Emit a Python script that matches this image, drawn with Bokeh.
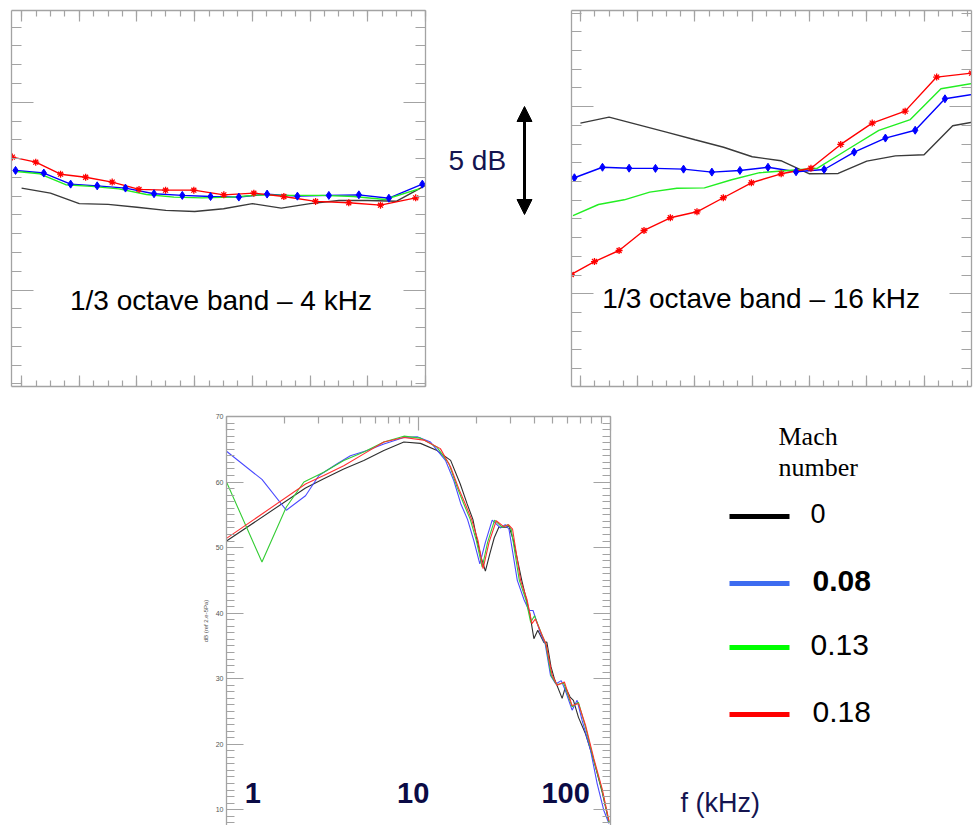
from bokeh.plotting import figure
from bokeh.layouts import column, row
from bokeh.models import (Range1d, FixedTicker, LinearAxis, Label, Arrow, NormalHead,
                          CustomLabelingPolicy)
from bokeh.embed import file_html
from bokeh.resources import INLINE

# ---------------- data ----------------
mach_labels = ["0", "0.08", "0.13", "0.18"]

# directivity panels (angle positions per Mach number)
ang_m0 = [20, 30, 40, 50, 60, 70, 80, 90, 100, 110, 120, 130, 140, 150, 160]
ang_m008 = [17.9, 27.7, 37.0, 46.2, 56.0, 65.9, 75.7, 85.5, 95.3, 105.1, 115.6, 126.5, 136.9, 147.3, 158.9]
ang_m013 = [17.4, 26.3, 35.3, 44.2, 53.7, 63.3, 72.8, 82.6, 92.7, 102.8, 113.3, 124.2, 135.2, 145.9, 157.8]
ang_m018 = [16.8, 24.9, 33.5, 42.2, 51.4, 60.7, 69.9, 79.7, 90.1, 100.5, 110.9, 121.9, 133.4, 144.4, 156.6]

band4_m0 = [65.43, 65.16, 64.60, 64.56, 64.41, 64.24, 64.18, 64.33, 64.60, 64.36, 64.60, 64.77, 64.77, 64.73, 65.57]
band4_m008 = [66.37, 66.23, 65.64, 65.55, 65.43, 65.13, 65.04, 64.98, 64.95, 65.11, 65.00, 65.04, 65.07, 64.89, 65.64]
band4_m013 = [66.33, 66.19, 65.61, 65.52, 65.39, 65.09, 64.95, 64.91, 64.95, 65.07, 65.04, 65.04, 64.98, 64.82, 65.39]
band4_m018 = [67.08, 66.81, 66.17, 66.01, 65.75, 65.36, 65.32, 65.32, 65.07, 65.16, 64.98, 64.72, 64.65, 64.52, 64.91]

band16_m0 = [69.12, 69.44, 69.04, 68.64, 68.23, 67.83, 67.32, 67.11, 66.41, 66.43, 67.09, 67.37, 67.43, 68.98, 69.26]
band16_m008 = [66.20, 66.76, 66.71, 66.70, 66.66, 66.50, 66.59, 66.76, 66.52, 66.64, 67.57, 68.32, 68.74, 70.42, 70.70]
band16_m013 = [64.18, 64.77, 65.02, 65.43, 65.64, 65.66, 66.09, 66.47, 66.59, 66.71, 67.71, 68.73, 69.31, 70.96, 71.26]
band16_m018 = [61.03, 61.72, 62.31, 63.38, 64.06, 64.38, 65.13, 65.93, 66.41, 66.71, 67.98, 69.12, 69.76, 71.58, 71.79]

# narrow-band spectra (frequency in kHz, level in dB)
f_m0 = [1.0, 2.58, 3.21, 4.08, 5.19, 6.6, 8.39, 10.24, 12.5, 14.7, 16.5, 17.9, 19.2, 20.2, 21.2, 22.3,
        23.5, 24.8, 26.2, 29.0, 29.5, 31.2, 34.5, 38.0, 39.9, 41.8, 45.0, 46.6, 49.0, 51.0, 56.0, 58.2,
        61.6, 64.1, 68.1, 74.1, 81.9, 90.5, 98.2]
spl_m0 = [51.0, 59.1, 60.5, 62.0, 63.3, 64.8, 66.1, 65.9, 64.8, 63.3, 59.7, 56.7, 54.3, 51.1, 48.5, 46.4,
          49.0, 51.5, 53.1, 53.1, 53.4, 51.1, 45.0, 39.9, 36.1, 37.4, 35.5, 35.6, 31.8, 30.0, 27.0, 28.7,
          27.2, 26.7, 24.1, 21.6, 17.5, 12.7, 8.1]
f_m008 = [1.0, 1.53, 2.05, 2.58, 3.03, 3.77, 4.42, 5.4, 6.6, 8.39, 9.84, 11.55, 13.82, 15.28, 16.6, 18.0,
          19.4, 20.86, 22.3, 24.2, 26.7, 28.3, 29.6, 32.7, 35.5, 37.6, 39.5, 43.2, 45.7, 48.7, 51.9, 55.4,
          58.2, 63.1, 67.0, 71.2, 78.7, 85.2, 92.3, 98.2]
spl_m008 = [64.7, 60.4, 55.7, 57.9, 61.0, 62.8, 64.0, 64.8, 65.8, 66.8, 66.9, 66.1, 63.3, 60.2, 56.7, 54.3,
            51.1, 47.5, 50.8, 54.2, 53.0, 53.5, 52.8, 45.0, 42.0, 40.4, 40.4, 36.9, 35.3, 30.5, 29.2, 29.7,
            28.2, 25.2, 26.7, 23.6, 19.1, 14.0, 9.9, 7.9]
f_m013 = [1.0, 1.53, 2.05, 2.53, 3.21, 4.08, 5.19, 6.6, 8.39, 10.24, 12.5, 14.4, 15.9, 17.2, 18.6, 20.0,
          21.46, 22.9, 24.9, 27.3, 29.2, 30.4, 33.5, 36.3, 38.4, 40.2, 43.8, 46.0, 49.2, 52.3, 57.1, 63.1,
          68.1, 74.1, 81.9, 90.5, 98.2]
spl_m013 = [60.0, 47.8, 56.2, 60.0, 61.5, 63.3, 64.6, 66.1, 67.0, 66.7, 65.3, 62.8, 59.2, 56.7, 54.3, 51.1,
            47.0, 50.8, 54.2, 53.1, 53.5, 52.8, 45.0, 42.0, 38.6, 39.6, 36.8, 35.3, 30.4, 29.1, 29.3, 25.7,
            26.4, 22.6, 17.5, 12.9, 8.1]
f_m018 = [1.0, 2.58, 3.21, 4.08, 5.19, 6.6, 8.39, 10.66, 13.0, 14.7, 16.2, 17.5, 18.9, 20.4, 21.7, 23.3,
          25.4, 27.8, 29.4, 30.9, 34.0, 36.8, 39.0, 40.6, 44.2, 46.2, 49.6, 52.7, 57.5, 63.1, 68.1, 74.1,
          81.9, 90.5, 98.2]
spl_m018 = [51.4, 59.7, 61.0, 62.5, 64.3, 66.1, 66.8, 66.4, 65.1, 62.3, 59.0, 56.7, 54.3, 51.1, 46.8, 50.8,
            54.1, 53.2, 53.5, 52.8, 45.0, 42.0, 38.4, 39.1, 36.5, 35.3, 30.6, 29.0, 29.5, 25.9, 26.2, 22.9,
            17.8, 13.2, 8.3]

angle_major = [20, 40, 60, 80, 100, 120, 140, 160]
angle_minor = list(range(15, 161, 5))
level_major = [60, 70]
level_minor = list(range(55, 76))
spec_y_major = [10, 20, 30, 40, 50, 60, 70]
spec_y_minor = list(range(7, 71))
spec_x_major = [1, 10, 100]
spec_x_minor = [2, 3, 4, 5, 6, 7, 8, 9, 20, 30, 40, 50, 60, 70, 80, 90]

# ---------------- styles ----------------
SANS = "Liberation Sans"
SERIF = "Liberation Serif"
NAVY = "#141450"
FRAME = "#a3a3a3"
panel_colors = ["#3a3a3a", "#0000ff", "#22ee22", "#ff0000"]
spec_colors = ["#2e2e2e", "#4a4aff", "#33cc33", "#ff3030"]
legend_colors = ["#000000", "#3d6cf0", "#00ff00", "#ff0000"]

TOP_B, BOT_B = 10, 9   # shared frame borders of the top row


def base_fig(w, h, **kw):
    p = figure(width=w, height=h, output_backend="svg", toolbar_location=None, **kw)
    p.background_fill_color = "white"
    p.border_fill_color = "white"
    p.outline_line_color = None
    return p


def style_axis(ax, major_in, minor_in, ticker, labels=False):
    ax.ticker = ticker
    ax.major_tick_in = major_in
    ax.major_tick_out = 0
    ax.minor_tick_in = minor_in
    ax.minor_tick_out = 0
    ax.axis_line_color = FRAME
    ax.major_tick_line_color = FRAME
    ax.minor_tick_line_color = FRAME
    ax.axis_line_width = 1.3
    ax.major_tick_line_width = 1.2
    ax.minor_tick_line_width = 1.2
    if not labels:
        ax.major_label_policy = CustomLabelingPolicy(code="return []")
        ax.major_label_text_font_size = "1px"
        ax.major_label_standoff = 0
        ax.axis_label = None


def band_panel(w, h, xr, yr, lr_borders, series_y, caption, cap_xy):
    p = base_fig(w, h, x_range=Range1d(*xr), y_range=Range1d(*yr),
                 x_axis_type=None, y_axis_type=None)
    p.min_border_left, p.min_border_right = lr_borders
    p.min_border_top, p.min_border_bottom = TOP_B, BOT_B
    for loc in ["left", "right"]:
        ax = LinearAxis()
        style_axis(ax, 22, 10, FixedTicker(ticks=level_major, minor_ticks=level_minor))
        p.add_layout(ax, loc)
    for loc in ["below", "above"]:
        ax = LinearAxis()
        style_axis(ax, 11, 6, FixedTicker(ticks=angle_major, minor_ticks=angle_minor))
        p.add_layout(ax, loc)
    xs = [ang_m0, ang_m008, ang_m013, ang_m018]
    for i, (x, y) in enumerate(zip(xs, series_y)):
        p.line(x, y, line_color=panel_colors[i], line_width=1.4)
    p.scatter(ang_m008, series_y[1], marker="diamond", size=8,
              fill_color=panel_colors[1], line_color=panel_colors[1])
    p.scatter(ang_m018, series_y[3], marker="asterisk", size=7,
              line_color=panel_colors[3], line_width=1.3)
    p.add_layout(Label(x=cap_xy[0], y=cap_xy[1], text=caption, text_align="center",
                       text_baseline="middle", text_font=SANS, text_font_size="28px",
                       text_color="black"))
    return p


# ---------------- top row ----------------
pA = band_panel(440, 395, (16.5, 160.0), (54.86, 74.89), (11, 15),
                [band4_m0, band4_m008, band4_m013, band4_m018],
                "1/3 octave band \u2013 4 kHz", (89.1, 59.45))

pB = base_fig(125, 395, x_range=Range1d(440, 565), y_range=Range1d(395 - BOT_B, TOP_B),
              x_axis_type=None, y_axis_type=None)
pB.min_border_left, pB.min_border_right = 0, 0
pB.min_border_top, pB.min_border_bottom = TOP_B, BOT_B
pB.add_layout(Label(x=448, y=160, text="5 dB", text_align="left", text_baseline="middle",
                    text_font=SANS, text_font_size="28px", text_color=NAVY))
pB.add_layout(Arrow(x_start=524, y_start=214, x_end=524, y_end=106, line_width=3,
                    line_color="black",
                    start=NormalHead(size=15, fill_color="black", line_color="black"),
                    end=NormalHead(size=15, fill_color="black", line_color="black")))

pC = band_panel(410, 395, (16.88, 156.57), (55.04, 75.14), (6, 1),
                [band16_m0, band16_m008, band16_m013, band16_m018],
                "1/3 octave band \u2013 16 kHz", (83.1, 59.75))

# ---------------- bottom spectrum ----------------
pD = base_fig(620, 430, x_range=Range1d(1, 100), y_range=Range1d(7.6, 70),
              x_axis_type="log", x_axis_location="above", y_axis_location="left")
pD.min_border_left, pD.min_border_right, pD.min_border_top, pD.min_border_bottom = 226, 10, 21, 0
pD.xgrid.visible = False
pD.ygrid.visible = False
style_axis(pD.xaxis[0], 14, 7, FixedTicker(ticks=spec_x_major, minor_ticks=spec_x_minor))
yl = pD.yaxis[0]
style_axis(yl, 17, 8, FixedTicker(ticks=spec_y_major, minor_ticks=spec_y_minor), labels=True)
yl.major_label_text_font_size = "7px"
yl.major_label_text_color = "#555555"
yl.major_label_text_font = SANS
yl.major_label_standoff = 3
yl.axis_label = "dB (ref 2.e-5Pa)"
yl.axis_label_text_font_size = "6px"
yl.axis_label_text_font_style = "normal"
yl.axis_label_text_font = SANS
yl.axis_label_text_color = "#555555"
yl.axis_label_standoff = 4
yr = LinearAxis()
style_axis(yr, 17, 8, FixedTicker(ticks=spec_y_major, minor_ticks=spec_y_minor))
pD.add_layout(yr, "right")

for i, (f, s) in enumerate([(f_m0, spl_m0), (f_m008, spl_m008), (f_m013, spl_m013), (f_m018, spl_m018)]):
    pD.line(f, s, line_color=spec_colors[i], line_width=1.1)

for txt, fx in [("1", 1.37), ("10", 9.39), ("100", 58.4)]:
    pD.add_layout(Label(x=fx, y=12.5, text=txt, text_align="center", text_baseline="middle",
                        text_font=SANS, text_font_size="29px", text_font_style="bold",
                        text_color="#0b0b45"))

# ---------------- legend panel ----------------
pE = base_fig(355, 430, x_range=Range1d(620, 975), y_range=Range1d(825, 416),
              x_axis_type=None, y_axis_type=None)
pE.min_border_left, pE.min_border_right, pE.min_border_top, pE.min_border_bottom = 0, 0, 21, 0
pE.add_layout(Label(x=778, y=436, text="Mach", text_align="left", text_baseline="middle",
                    text_font=SERIF, text_font_size="26px", text_color="black"))
pE.add_layout(Label(x=778, y=467, text="number", text_align="left", text_baseline="middle",
                    text_font=SERIF, text_font_size="26px", text_color="black"))
leg_y = [516, 583, 647, 714]
leg_style = ["normal", "bold", "normal", "normal"]
leg_size = ["27px", "30px", "30px", "30px"]
leg_tx = [810, 812, 810, 812]
for i, lab in enumerate(mach_labels):
    pE.line([729, 789], [leg_y[i], leg_y[i]], line_color=legend_colors[i], line_width=5)
    pE.add_layout(Label(x=leg_tx[i], y=leg_y[i] - 3, text=lab, text_align="left",
                        text_baseline="middle", text_font=SANS,
                        text_font_size=leg_size[i], text_font_style=leg_style[i],
                        text_color="black"))
pE.add_layout(Label(x=680, y=802, text="f (kHz)", text_align="left", text_baseline="middle",
                    text_font=SANS, text_font_size="27px", text_color=NAVY))

layout = column(row(pA, pB, pC), row(pD, pE))

open("out.html", "w").write(file_html(layout, INLINE))
